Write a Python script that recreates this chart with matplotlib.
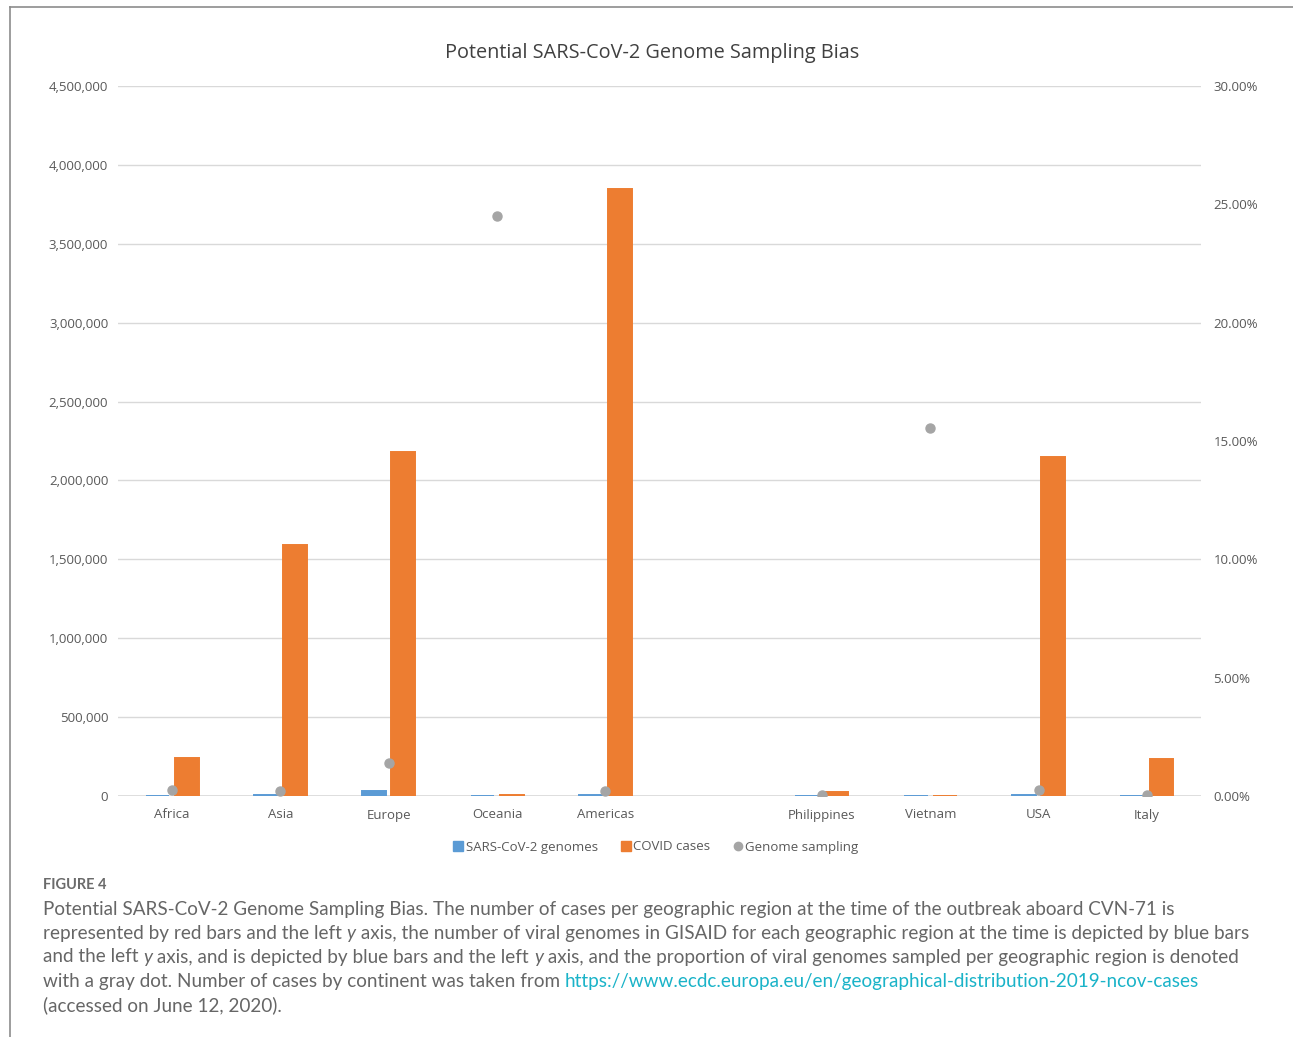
import matplotlib.pyplot as plt
import matplotlib.lines as mlines
from matplotlib.offsetbox import TextArea, HPacker, AnchoredOffsetbox
from matplotlib.ticker import FuncFormatter, MultipleLocator
import numpy as np

regions = ['Africa', 'Asia', 'Europe', 'Oceania', 'Americas', '',
           'Philippines', 'Vietnam', 'USA', 'Italy']
genomes = [600, 3300, 30300, 2180, 8000, 0, 10, 52, 5400, 70]
cases = [241000, 1591000, 2180000, 8900, 3847000, 0, 25000, 334, 2148000, 235000]
sampling = [0.25, 0.21, 1.39, 24.5, 0.21, np.nan, 0.04, 15.55, 0.25, 0.03]

BLUE = '#5b9bd5'
ORANGE = '#ed7d31'
GRAY = '#a5a5a5'
TXT = '#595959'
FONT = 'Open Sans'

plt.rcParams['font.family'] = FONT

fig = plt.figure(figsize=(12.93, 10.37), dpi=100)
ax = fig.add_axes([118 / 1293, 1 - 796 / 1037, 1083 / 1293, 710 / 1037])
ax2 = ax.twinx()

x = np.arange(len(regions))
w = 0.22
# empty slot keeps the gap between continents and countries
has_bar = np.array([r != '' for r in regions])
# an outline in the fill colour keeps near-zero bars visible as a thin line
ax.bar(x[has_bar] - 0.135, np.array(genomes)[has_bar], w, color=BLUE,
       edgecolor=BLUE, linewidth=1.4, zorder=3)
ax.bar(x[has_bar] + 0.135, np.array(cases)[has_bar], w, color=ORANGE,
       edgecolor=ORANGE, linewidth=1.4, zorder=3)
ax2.plot(x, sampling, 'o', color=GRAY, markersize=6.5, zorder=4)

ax.set_xlim(-0.5, len(regions) - 0.5)
ax.set_ylim(0, 4500000)
ax2.set_ylim(0, 30)
ax.yaxis.set_major_locator(MultipleLocator(500000))
ax2.yaxis.set_major_locator(MultipleLocator(5))
ax.yaxis.set_major_formatter(FuncFormatter(lambda v, p: f'{v:,.0f}'))
ax2.yaxis.set_major_formatter(FuncFormatter(lambda v, p: f'{v:.2f}%'))
ax.grid(axis='y', color='#d9d9d9', linewidth=1, zorder=0)
ax.set_axisbelow(True)

ax.set_xticks(x)
ax.set_xticklabels(regions)
for a in (ax, ax2):
    for s in a.spines.values():
        s.set_visible(False)
    a.tick_params(length=0, labelsize=9.5, labelcolor=TXT)
ax.tick_params(axis='y', pad=7)
ax2.tick_params(axis='y', pad=9)
ax.tick_params(axis='x', pad=9)
ax.axhline(0, color='#d9d9d9', linewidth=1.2, zorder=2)

fig.text(652 / 1293, 1 - 53 / 1037, 'Potential SARS-CoV-2 Genome Sampling Bias',
         ha='center', va='center', fontsize=14.3, color='#404040')

handles = [
    mlines.Line2D([], [], marker='s', linestyle='none', color=BLUE, markersize=7),
    mlines.Line2D([], [], marker='s', linestyle='none', color=ORANGE, markersize=7),
    mlines.Line2D([], [], marker='o', linestyle='none', color=GRAY, markersize=6),
]
fig.legend(handles, ['SARS-CoV-2 genomes', 'COVID cases', 'Genome sampling'],
           loc='center', bbox_to_anchor=(655 / 1293, 1 - 847 / 1037), ncol=3,
           frameon=False, fontsize=9.5, labelcolor=TXT, handletextpad=0.05,
           columnspacing=1.6, handlelength=1.0)

# caption underneath the chart
CAP = '#666666'
LINK = '#1ab3c8'
CAP_FS = 13.6
fig.text(43 / 1293, 1 - 885 / 1037, 'FIGURE 4', ha='left', va='center',
         fontsize=10.5, color='#6b6b6b', family='Lato', weight='bold')


def caption_line(parts, ypix):
    areas = []
    for txt, style in parts:
        props = dict(color=CAP, fontsize=CAP_FS, family='Lato')
        if style == 'i':
            props['style'] = 'italic'
        if style == 'link':
            props['color'] = LINK
        areas.append(TextArea(txt, textprops=props))
    box = HPacker(children=areas, align='baseline', pad=0, sep=0)
    anch = AnchoredOffsetbox(loc='center left', child=box, pad=0, borderpad=0,
                             frameon=False,
                             bbox_to_anchor=(43 / 1293, 1 - ypix / 1037),
                             bbox_transform=fig.transFigure)
    fig.add_artist(anch)


caption_line([('Potential SARS-CoV-2 Genome Sampling Bias. The number of cases per geographic region '
               'at the time of the outbreak aboard CVN-71 is', '')], 909)
caption_line([('represented by red bars and the left ', ''), ('y', 'i'),
              (' axis, the number of viral genomes in GISAID for each geographic region at the time '
               'is depicted by blue bars', '')], 933)
caption_line([('and the left ', ''), ('y', 'i'),
              (' axis, and is depicted by blue bars and the left ', ''), ('y', 'i'),
              (' axis, and the proportion of viral genomes sampled per geographic region is denoted', '')],
             957)
caption_line([('with a gray dot. Number of cases by continent was taken from ', ''),
              ('https://www.ecdc.europa.eu/en/geographical-distribution-2019-ncov-cases', 'link')], 981)
caption_line([('(accessed on June 12, 2020).', '')], 1005)

# page frame lines (top and left)
fig.add_artist(mlines.Line2D([10 / 1293, 1], [1 - 7 / 1037] * 2, color='#8c8c8c',
                             linewidth=1.2, transform=fig.transFigure))
fig.add_artist(mlines.Line2D([10 / 1293] * 2, [0, 1 - 7 / 1037], color='#8c8c8c',
                             linewidth=1.2, transform=fig.transFigure))

fig.savefig('out.png', dpi=100)
